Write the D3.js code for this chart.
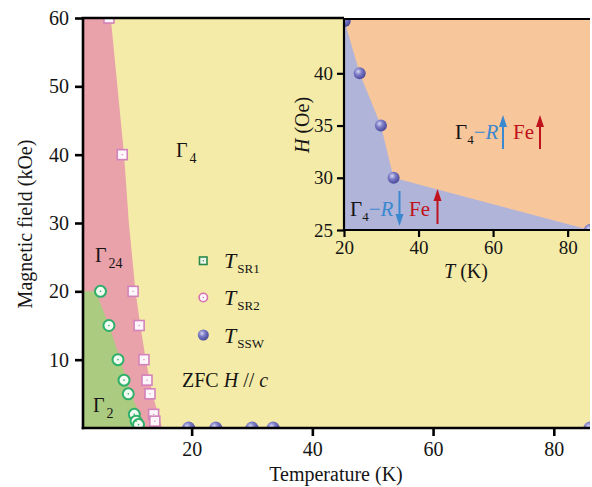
<!DOCTYPE html>
<meta charset="utf-8">
<body style="margin:0;background:#fff">
<script src="https://cdn.jsdelivr.net/npm/d3@7"></script>
<script>

// phase boundaries, [T (K), H (kOe)]
const gamma2Edge  = [[2,20],[4.1,20],[6.3,15],[8.2,10],[9.9,5],[12.4,0]];
const gamma24Edge = [[6.6,60],[8.8,40],[9.6,30],[10.7,20],[11.5,15],[12.4,10],[13.5,5],[15.1,0]];

// markers
const tSR1 = [[4.9,20],[6.3,15],[7.8,10],[8.8,7],[9.5,5],[10.5,2],[10.8,1],[11.2,0.5]];
const tSR2 = [[6.3,60],[8.5,40],[10.3,20],[11.3,15],[12.1,10],[12.6,7],[13.1,5],[13.7,2],[13.9,1]];
const tSSW = [[19.5,0],[24,0],[30,0],[33.5,0],[86,0]];

// inset, [T (K), H (Oe)]
const insetEdge = [[20,45.2],[24.2,40],[29.9,35],[33.3,30],[86,25]];
const insetSSW  = [[20.2,45],[24.2,40],[29.9,35],[33.3,30],[86,25]];

const xTicks = [20,40,60,80];
const yTicks = [10,20,30,40,50,60];
const xTicksIn = [20,40,60,80];
const yTicksIn = [25,30,35,40];

const W = 592, H = 487;
const font = "Liberation Serif";
const ink = '#151515';

const svg = d3.select('body').append('svg')
    .attr('width', W).attr('height', H)
    .attr('font-family', font);

const defs = svg.append('defs');
const grad = defs.append('radialGradient').attr('id','ball')
    .attr('cx','38%').attr('cy','35%').attr('r','65%');
grad.append('stop').attr('offset','0%').attr('stop-color','#d6d6f4');
grad.append('stop').attr('offset','45%').attr('stop-color','#7b7bc6');
grad.append('stop').attr('offset','100%').attr('stop-color','#4a4a9c');

// main plot
const x = d3.scaleLinear().domain([2, 86]).range([83, 590]);
const y = d3.scaleLinear().domain([0, 60]).range([428, 18]);

defs.append('clipPath').attr('id','clipMain').append('rect')
    .attr('x', 83).attr('y', 18).attr('width', 507).attr('height', 410);

const main = svg.append('g').attr('clip-path','url(#clipMain)');
const area = d3.line().x(d => x(d[0])).y(d => y(d[1]));

main.append('rect').attr('x',83).attr('y',18).attr('width',507).attr('height',410).attr('fill','#f4eba8');
main.append('path')
    .attr('d', area([[2,60]].concat(gamma24Edge, [[2,0]])))
    .attr('fill','#e9a2aa');
main.append('path')
    .attr('d', area(gamma2Edge.concat([[2,0]])))
    .attr('fill','#abcb80');

function dotCircle(g, data, sx, sy) {
  g.selectAll(null).data(data).enter().append('circle')
    .attr('cx', d => sx(d[0])).attr('cy', d => sy(d[1])).attr('r', 5.5)
    .attr('fill','#f4fbf2').attr('stroke','#2fb06a').attr('stroke-width',2);
  g.selectAll(null).data(data).enter().append('circle')
    .attr('cx', d => sx(d[0])).attr('cy', d => sy(d[1])).attr('r', 0.8)
    .attr('fill','#2fb06a');
}
function dotSquare(g, data, sx, sy) {
  g.selectAll(null).data(data).enter().append('rect')
    .attr('x', d => sx(d[0]) - 5).attr('y', d => sy(d[1]) - 5)
    .attr('width', 10).attr('height', 10)
    .attr('fill','#fdf6fb').attr('stroke','#d383bb').attr('stroke-width',1.6);
  g.selectAll(null).data(data).enter().append('circle')
    .attr('cx', d => sx(d[0])).attr('cy', d => sy(d[1])).attr('r', 0.7)
    .attr('fill','#d383bb');
}
function balls(g, data, sx, sy, r) {
  g.selectAll(null).data(data).enter().append('circle')
    .attr('cx', d => sx(d[0])).attr('cy', d => sy(d[1])).attr('r', r)
    .attr('fill','url(#ball)');
}

dotSquare(main, tSR2, x, y);
dotCircle(main, tSR1, x, y);
balls(main, tSSW, x, y, 6.5);

// main axes
const axes = svg.append('g').attr('stroke','#000').attr('stroke-width',2.6);
axes.append('line').attr('x1',83).attr('x2',83).attr('y1',17).attr('y2',429.3);
axes.append('line').attr('x1',81.7).attr('x2',590).attr('y1',428).attr('y2',428);
axes.append('line').attr('x1',81.7).attr('x2',344).attr('y1',18).attr('y2',18);

function styleAxis(a, size, sw) {
  a.attr('font-family', font);
  a.select('.domain').remove();
  a.selectAll('line').attr('stroke-width', sw);
  a.selectAll('text').attr('font-size', size).attr('font-family', font).attr('fill', ink);
}

const xAxis = svg.append('g').attr('transform','translate(0,428)')
    .call(d3.axisBottom(x).tickValues(xTicks).tickSize(8).tickPadding(6));
const yAxis = svg.append('g').attr('transform','translate(83,0)')
    .call(d3.axisLeft(y).tickValues(yTicks).tickSize(8).tickPadding(6));
styleAxis(xAxis, 20, 2.6);
styleAxis(yAxis, 20, 2.6);

svg.append('text').attr('x', 336).attr('y', 481).attr('text-anchor','middle')
    .attr('font-size',20).attr('fill',ink).text('Temperature (K)');
svg.append('text').attr('transform','translate(32,224) rotate(-90)').attr('text-anchor','middle')
    .attr('font-size',20).attr('fill',ink).text('Magnetic field (kOe)');

// region labels
function gammaLabel(px, py, sub) {
  const t = svg.append('text').attr('x',px).attr('y',py).attr('font-size',20).attr('fill',ink);
  t.append('tspan').text('\u0393');
  t.append('tspan').attr('font-size',14).attr('dy',6).attr('dx',2).text(sub);
}
gammaLabel(176, 157, '4');
gammaLabel(95, 262, '24');
gammaLabel(93, 412, '2');

svg.append('text').attr('x',182).attr('y',387).attr('font-size',20).attr('fill',ink)
  .html('ZFC <tspan font-style="italic">H</tspan> // <tspan font-style="italic">c</tspan>');

// legend (marker styles as in the original)
const leg = svg.append('g');
leg.append('rect').attr('x',199.5).attr('y',257).attr('width',7.5).attr('height',7.5)
   .attr('fill','#eef6ee').attr('stroke','#2a8a4a').attr('stroke-width',1.6);
leg.append('circle').attr('cx',203.3).attr('cy',260.8).attr('r',0.7).attr('fill','#2a8a4a');
leg.append('circle').attr('cx',203.3).attr('cy',297.5).attr('r',4.2)
   .attr('fill','#fdf6fb').attr('stroke','#d870b0').attr('stroke-width',1.6);
leg.append('circle').attr('cx',203.3).attr('cy',297.5).attr('r',0.8).attr('fill','#d870b0');
leg.append('circle').attr('cx',203.3).attr('cy',335).attr('r',5.5).attr('fill','url(#ball)');
[['SR1',268],['SR2',305],['SSW',343]].forEach(([s, py]) => {
  const t = leg.append('text').attr('x',224).attr('y',py).attr('font-size',22).attr('fill',ink);
  t.append('tspan').attr('font-style','italic').text('T');
  t.append('tspan').attr('font-size',13).attr('dy',5).attr('dx',1).text(s);
});

// inset
const xi = d3.scaleLinear().domain([20, 86]).range([344, 590]);
const yi = d3.scaleLinear().domain([25, 45.2]).range([230, 19]);

defs.append('clipPath').attr('id','clipIn').append('rect')
    .attr('x',344).attr('y',19).attr('width',246).attr('height',211);
const ins = svg.append('g').attr('clip-path','url(#clipIn)');
const lineIn = d3.line().x(d => xi(d[0])).y(d => yi(d[1]));
ins.append('rect').attr('x',344).attr('y',19).attr('width',246).attr('height',211).attr('fill','#f7c69b');
ins.append('path').attr('d', lineIn(insetEdge.concat([[20,25]]))).attr('fill','#b0b4d9');
balls(ins, insetSSW, xi, yi, 6);

const axIn = svg.append('g').attr('stroke','#000').attr('stroke-width',2.2);
axIn.append('line').attr('x1',344).attr('x2',344).attr('y1',18).attr('y2',231);
axIn.append('line').attr('x1',343).attr('x2',590).attr('y1',230).attr('y2',230);
axIn.append('line').attr('x1',343).attr('x2',590).attr('y1',19).attr('y2',19);

const xAxIn = svg.append('g').attr('transform','translate(0,230)')
    .call(d3.axisBottom(xi).tickValues(xTicksIn).tickSize(7).tickPadding(4));
const yAxIn = svg.append('g').attr('transform','translate(344,0)')
    .call(d3.axisLeft(yi).tickValues(yTicksIn).tickSize(7).tickPadding(4));
styleAxis(xAxIn, 19, 2.2);
styleAxis(yAxIn, 19, 2.2);

svg.append('text').attr('x',466).attr('y',278).attr('text-anchor','middle')
   .attr('font-size',20).attr('fill',ink)
   .html('<tspan font-style="italic">T</tspan> (K)');
svg.append('text').attr('transform','translate(309,125) rotate(-90)').attr('text-anchor','middle')
   .attr('font-size',20).attr('fill',ink)
   .html('<tspan font-style="italic">H</tspan> (Oe)');

// spin labels
function arrow(px, y1, y2, col) {
  const up = y2 < y1;
  svg.append('line').attr('x1',px).attr('x2',px).attr('y1',y1).attr('y2', up ? y2 + 8 : y2 - 8)
     .attr('stroke',col).attr('stroke-width',2);
  const h = up ? 12 : -12;
  svg.append('path').attr('d', `M${px},${y2} L${px-4},${y2 + h} L${px+4},${y2 + h} Z`).attr('fill',col);
}
function spinLabel(px, py) {
  const t = svg.append('text').attr('x',px).attr('y',py).attr('font-size',21).attr('fill',ink);
  t.append('tspan').text('\u0393');
  t.append('tspan').attr('font-size',13).attr('dy',5).text('4');
  t.append('tspan').attr('dy',-5).attr('fill','#3a88d0').text('\u2212');
  t.append('tspan').attr('fill','#3a88d0').attr('font-style','italic').text('R');
  return t;
}
spinLabel(455, 139);
arrow(503, 149, 115, '#3a88d0');
svg.append('text').attr('x',513).attr('y',139).attr('font-size',21).attr('fill','#c0121c').text('Fe');
arrow(540, 149, 115, '#c0121c');

spinLabel(350, 216);
arrow(399.5, 191, 226, '#3a88d0');
svg.append('text').attr('x',409).attr('y',216).attr('font-size',21).attr('fill','#c0121c').text('Fe');
arrow(437.5, 224, 189, '#c0121c');

</script>
